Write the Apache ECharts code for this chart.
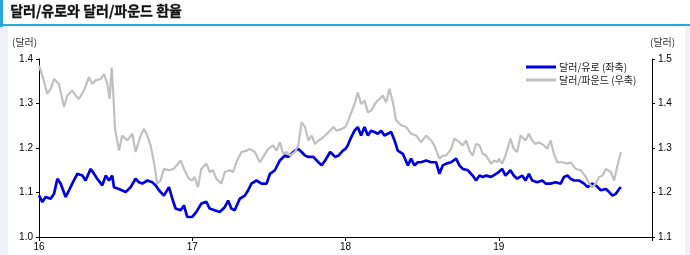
<!DOCTYPE html>
<html>
<head>
<meta charset="utf-8">
<script src="https://cdn.jsdelivr.net/npm/echarts@6/dist/echarts.min.js"></script>
<style>
html,body{margin:0;padding:0;background:#eef0fa;}
#c{width:690px;height:255px;}
</style>
</head>
<body>
<div id="c"></div>
<script>
// ---- data ----
const chartTitle = '달러/유로와 달러/파운드 환율';
const unitLeft = '(달러)';
const unitRight = '(달러)';
const seriesNames = ['달러/유로 (좌축)', '달러/파운드 (우축)'];
const yearTicks = [2016, 2017, 2018, 2019, 2020];

// dates as decimal years
const eurDates = [
2016.000,2016.022,2016.043,2016.076,2016.098,2016.120,2016.141,2016.174,2016.196,2016.217,2016.250,2016.283,2016.304,2016.337,2016.359,2016.380,2016.413,2016.435,2016.457,2016.478,2016.489,2016.522,2016.565,2016.598,2016.630,2016.652,2016.674,2016.707,2016.739,2016.761,2016.783,2016.815,2016.848,2016.870,2016.891,2016.924,2016.946,2016.967,
2017.000,2017.026,2017.059,2017.092,2017.114,2017.146,2017.179,2017.212,2017.234,2017.255,2017.277,2017.310,2017.343,2017.365,2017.386,2017.419,2017.452,2017.485,2017.507,2017.539,2017.572,2017.605,2017.627,2017.648,2017.670,2017.692,2017.714,2017.736,2017.758,2017.790,2017.823,2017.845,2017.867,2017.900,2017.932,2017.954,2017.983,
2018.000,2018.015,2018.037,2018.059,2018.080,2018.102,2018.124,2018.146,2018.167,2018.189,2018.211,2018.233,2018.254,2018.276,2018.298,2018.320,2018.341,2018.374,2018.407,2018.428,2018.450,2018.472,2018.493,2018.526,2018.559,2018.591,2018.613,2018.635,2018.657,2018.689,2018.722,2018.743,2018.765,2018.798,2018.830,2018.852,2018.874,2018.896,2018.917,2018.950,2018.983,
2019.000,2019.022,2019.044,2019.076,2019.098,2019.120,2019.153,2019.175,2019.197,2019.218,2019.251,2019.284,2019.306,2019.338,2019.371,2019.404,2019.426,2019.448,2019.469,2019.491,2019.524,2019.557,2019.579,2019.611,2019.633,2019.666,2019.699,2019.721,2019.742,2019.764,2019.786,2019.797
];
const eurValues = [
1.0935,1.0785,1.0898,1.086,1.097,1.131,1.120,1.090,1.105,1.120,1.142,1.138,1.127,1.153,1.142,1.131,1.116,1.138,1.127,1.138,1.112,1.108,1.101,1.112,1.131,1.123,1.120,1.127,1.123,1.116,1.105,1.093,1.112,1.086,1.064,1.060,1.071,1.045,
1.045,1.056,1.075,1.079,1.064,1.060,1.056,1.067,1.082,1.064,1.060,1.086,1.093,1.105,1.120,1.127,1.120,1.120,1.142,1.150,1.172,1.183,1.180,1.187,1.194,1.198,1.191,1.183,1.180,1.180,1.168,1.161,1.172,1.191,1.180,1.183,1.194,
1.198,1.206,1.224,1.239,1.247,1.228,1.247,1.228,1.239,1.236,1.232,1.239,1.228,1.232,1.236,1.217,1.194,1.187,1.161,1.176,1.161,1.168,1.168,1.172,1.168,1.168,1.142,1.161,1.165,1.168,1.176,1.161,1.153,1.150,1.138,1.127,1.138,1.135,1.138,1.135,1.142,
1.146,1.153,1.138,1.150,1.138,1.131,1.138,1.127,1.142,1.127,1.123,1.127,1.120,1.120,1.123,1.120,1.135,1.138,1.131,1.127,1.127,1.120,1.112,1.120,1.116,1.105,1.108,1.101,1.093,1.097,1.108,1.112
];

const gbpDates = [
2016.000,2016.022,2016.054,2016.076,2016.098,2016.130,2016.163,2016.185,2016.217,2016.239,2016.261,2016.293,2016.326,2016.348,2016.370,2016.402,2016.424,2016.446,2016.461,2016.474,2016.483,2016.496,2016.522,2016.543,2016.576,2016.609,2016.630,2016.663,2016.685,2016.707,2016.728,2016.750,2016.772,2016.793,2016.815,2016.848,2016.880,2016.924,2016.946,2016.978,
2017.000,2017.015,2017.037,2017.059,2017.092,2017.114,2017.135,2017.157,2017.190,2017.212,2017.245,2017.266,2017.288,2017.321,2017.354,2017.376,2017.408,2017.441,2017.463,2017.496,2017.528,2017.550,2017.572,2017.594,2017.616,2017.638,2017.670,2017.692,2017.714,2017.736,2017.758,2017.779,2017.801,2017.823,2017.845,2017.867,2017.900,2017.921,2017.943,2017.976,
2018.000,2018.026,2018.059,2018.080,2018.102,2018.124,2018.146,2018.167,2018.200,2018.222,2018.243,2018.265,2018.287,2018.309,2018.330,2018.363,2018.396,2018.428,2018.461,2018.493,2018.526,2018.559,2018.580,2018.613,2018.635,2018.657,2018.689,2018.711,2018.743,2018.765,2018.787,2018.809,2018.830,2018.852,2018.874,2018.896,2018.917,2018.950,2018.972,2018.993,
2019.000,2019.022,2019.044,2019.076,2019.098,2019.120,2019.142,2019.175,2019.197,2019.218,2019.240,2019.262,2019.295,2019.317,2019.338,2019.360,2019.382,2019.415,2019.448,2019.469,2019.502,2019.535,2019.568,2019.590,2019.611,2019.633,2019.655,2019.677,2019.699,2019.731,2019.753,2019.764,2019.775,2019.786,2019.797
];
const gbpValues = [
1.485,1.463,1.422,1.433,1.455,1.444,1.392,1.418,1.429,1.418,1.410,1.429,1.459,1.444,1.452,1.455,1.466,1.444,1.410,1.481,1.433,1.343,1.294,1.328,1.317,1.332,1.291,1.328,1.343,1.328,1.306,1.268,1.220,1.227,1.253,1.250,1.253,1.272,1.253,1.231,
1.227,1.235,1.212,1.253,1.265,1.246,1.250,1.231,1.220,1.246,1.250,1.246,1.268,1.291,1.294,1.298,1.291,1.268,1.280,1.298,1.306,1.294,1.313,1.287,1.291,1.283,1.291,1.306,1.358,1.347,1.317,1.328,1.309,1.317,1.321,1.328,1.339,1.347,1.339,1.343,
1.347,1.369,1.399,1.425,1.399,1.407,1.380,1.384,1.403,1.410,1.418,1.403,1.433,1.403,1.362,1.351,1.347,1.332,1.328,1.313,1.328,1.317,1.306,1.276,1.283,1.283,1.298,1.321,1.313,1.306,1.317,1.294,1.283,1.309,1.306,1.287,1.283,1.265,1.272,1.268,
1.276,1.265,1.283,1.321,1.298,1.291,1.328,1.317,1.332,1.317,1.309,1.313,1.306,1.298,1.317,1.287,1.268,1.268,1.265,1.268,1.253,1.250,1.235,1.220,1.212,1.220,1.235,1.238,1.253,1.246,1.227,1.227,1.261,1.276,1.291
];

const leftAxisRange = [1.0, 1.4];
const rightAxisRange = [1.1, 1.5];

// ---- chart ----
const chart = echarts.init(document.getElementById('c'), null, {renderer: 'canvas'});
const font = '"Liberation Sans", Arial, sans-serif';
const kfont = '"Noto Sans CJK KR", sans-serif';
const pair = (xs, ys) => xs.map((x, i) => [x, ys[i]]);

chart.setOption({
  backgroundColor: '#eef0fa',
  animation: false,
  graphic: [
    {type: 'rect', shape: {x: 0, y: 0, width: 690, height: 25}, style: {fill: '#ffffff'}, z: -10},
    {type: 'rect', shape: {x: 8, y: 27, width: 677, height: 228}, style: {fill: '#ffffff'}, z: -10},
    {type: 'rect', shape: {x: 0, y: 0, width: 3, height: 27}, style: {fill: '#29a9d9'}, z: -5},
    {type: 'rect', shape: {x: 0, y: 24, width: 690, height: 2}, style: {fill: '#29a9d9'}, z: -5},
    {type: 'text', left: 10, top: 4, style: {text: chartTitle, font: 'bold 14px ' + kfont, fill: '#111', stroke: '#111', lineWidth: 0.3}},
    {type: 'text', left: 12, top: 37, style: {text: unitLeft, font: '10px ' + kfont, fill: '#333'}},
    {type: 'text', left: 650, top: 37, style: {text: unitRight, font: '10px ' + kfont, fill: '#333'}}
  ],
  grid: {left: 39, right: 38, top: 59, bottom: 18, containLabel: false},
  legend: {
    orient: 'vertical', left: 521, top: 57, itemWidth: 30, itemGap: 3,
    textStyle: {fontSize: 10, fontFamily: kfont, color: '#222', padding: [0,0,0,-2]},
    data: [
      {name: seriesNames[0], icon: 'rect', itemStyle: {color: '#0000dc'}},
      {name: seriesNames[1], icon: 'rect', itemStyle: {color: '#c0c0c0'}}
    ],
    itemHeight: 3
  },
  xAxis: {
    type: 'value', min: yearTicks[0], max: yearTicks[yearTicks.length - 1], interval: 1,
    splitLine: {show: false},
    axisLine: {lineStyle: {color: '#000', width: 1}},
    axisTick: {show: true, length: 4, lineStyle: {color: '#000'}},
    axisLabel: {fontSize: 10, fontFamily: font, color: '#000', margin: 5,
      formatter: v => (v === yearTicks[yearTicks.length - 1] ? '' : String(v).slice(2))}
  },
  yAxis: [
    {type: 'value', min: leftAxisRange[0], max: leftAxisRange[1], interval: 0.1, position: 'left',
      splitLine: {show: false},
      axisLine: {show: true, lineStyle: {color: '#000'}},
      axisTick: {show: true, length: 3, lineStyle: {color: '#000'}},
      axisLabel: {fontSize: 10, fontFamily: font, color: '#000', margin: 6, formatter: v => v.toFixed(1)}},
    {type: 'value', min: rightAxisRange[0], max: rightAxisRange[1], interval: 0.1, position: 'right',
      splitLine: {show: false},
      axisLine: {show: true, lineStyle: {color: '#000'}},
      axisTick: {show: true, length: 3, lineStyle: {color: '#000'}},
      axisLabel: {fontSize: 10, fontFamily: font, color: '#000', margin: 6, formatter: v => v.toFixed(1)}}
  ],
  series: [
    {name: seriesNames[0], type: 'line', yAxisIndex: 0, data: pair(eurDates, eurValues),
      symbol: 'none', showSymbol: false, lineStyle: {color: '#0000dc', width: 2.7}, itemStyle: {color: '#0000dc'}},
    {name: seriesNames[1], type: 'line', yAxisIndex: 1, data: pair(gbpDates, gbpValues),
      symbol: 'none', showSymbol: false, lineStyle: {color: '#c0c0c0', width: 2.2}, itemStyle: {color: '#c0c0c0'}}
  ]
});
</script>
</body>
</html>
